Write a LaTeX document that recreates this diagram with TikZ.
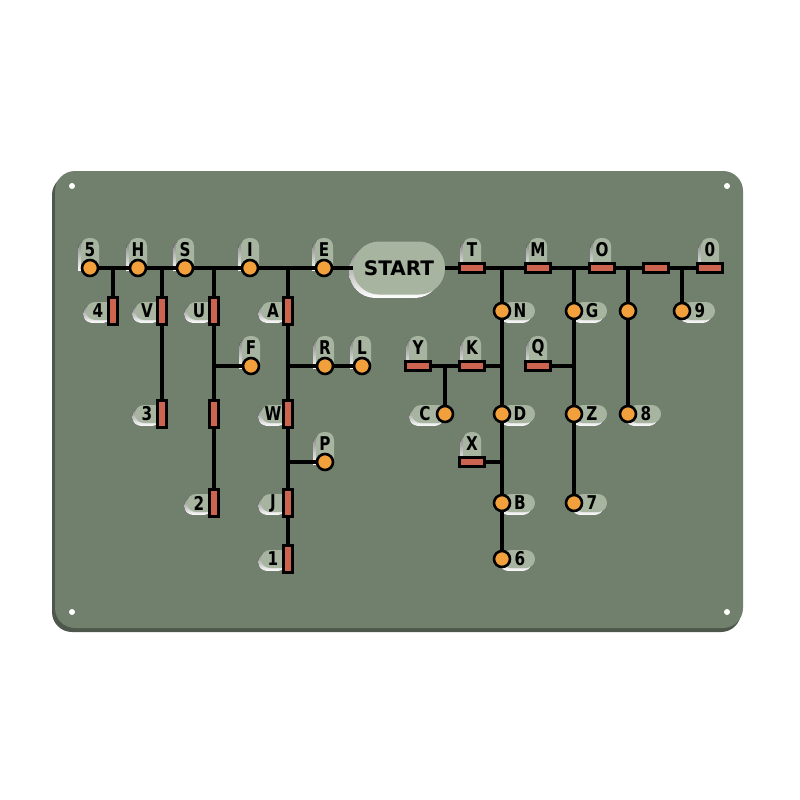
\documentclass[tikz,border=0pt]{standalone}
\usepackage{fontspec}
\setmainfont{DejaVu Sans}
\definecolor{plate}{HTML}{70806C}
\definecolor{edge}{HTML}{4E574B}
\definecolor{shade}{HTML}{5D6C5A}
\definecolor{tab}{HTML}{A6B4A0}
\definecolor{dotc}{HTML}{F2A03C}
\definecolor{dashc}{HTML}{CD6450}
\pgfdeclarelayer{back}
\pgfdeclarelayer{wires}
\pgfsetlayers{back,wires,main}

\begin{document}
\begin{tikzpicture}[x=1pt,y=-1pt,
	wire/.style={line width=3.5pt},
	dot/.style={circle,draw,line width=2.6pt,fill=dotc,minimum size=16pt,inner sep=0pt},
	hdash/.style={draw,line width=2.2pt,fill=dashc,minimum width=25pt,minimum height=9pt,inner sep=0pt},
	vdash/.style={draw,line width=2.2pt,fill=dashc,minimum width=9pt,minimum height=27pt,inner sep=0pt},
	start/.style={fill=tab,rounded corners=26pt,minimum width=92pt,minimum height=53pt,font=\fontsize{20}{20}\selectfont\bfseries},
	lab/.style={font=\fontsize{19}{19}\selectfont\bfseries,xscale=0.8,inner sep=0pt}]
		\useasboundingbox (0,0) rectangle (800,800);
		
		\begin{pgfonlayer}{back}
		\fill[white] (0,0) rectangle (800,800);
		\fill[edge, rounded corners=20pt] (52,175) rectangle (741,632);
		\fill[plate, rounded corners=20pt] (55,171) rectangle (743,628);
		\fill[white] (72,186) circle [radius=3] (727,186) circle [radius=3];
		\fill[white] (72,612) circle [radius=3] (727,612) circle [radius=3];
		\fill[shade, rounded corners=26pt] (349,245) rectangle (441,298);
		% tabs above
		\foreach \x/\y in {90/268,138/268,185/268,250/268,324/268,472/268,538/268,602/268,710/268,
			251/366,325/366,362/366,325/462,418/366,472/366,538/366,472/462} {
			\fill[shade] (\x-12,\y+3) {[rounded corners=8pt] -- (\x-12,\y-27) -- (\x+6,\y-27)} -- (\x+6,\y+3) -- cycle;
			\fill[tab] (\x-9,\y) {[rounded corners=8pt] -- (\x-9,\y-30) -- (\x+9,\y-30)} -- (\x+9,\y) -- cycle;
		}
		% tabs right
		\foreach \x/\y in {502/311,574/311,682/311,502/414,574/414,628/414,502/503,574/503,502/559} {
			\fill[shade, rounded corners=9pt] (\x-3,\y-6) rectangle (\x+30,\y+12);
			\fill[tab, rounded corners=9pt] (\x,\y-9) rectangle (\x+33,\y+9);
		}
		% tabs left
		\foreach \x/\y/\w in {113/311/27,162/311/27,214/311/27,288/311/27,162/414/27,288/414/27,
			214/503/27,288/503/27,288/559/27,445/414/33} {
			\fill[shade, rounded corners=9pt] (\x-\w-3,\y-6) rectangle (\x-1,\y+12);
			\fill[tab, rounded corners=9pt] (\x-\w,\y-9) rectangle (\x+2,\y+9);
		}
		\end{pgfonlayer}
		
		\node[dot] (n5) at (90,268) {};
		\node[dot] (nH) at (138,268) {};
		\node[dot] (nS) at (185,268) {};
		\node[dot] (nI) at (250,268) {};
		\node[dot] (nE) at (324,268) {};
		\node[start] (start) at (399,268) {START};
		\node[hdash] (nT) at (472,268) {};
		\node[hdash] (nM) at (538,268) {};
		\node[hdash] (nO) at (602,268) {};
		\node[hdash] (nCH) at (656,268) {};
		\node[hdash] (n0) at (710,268) {};
		
		\coordinate (j4) at (113,268);
		\coordinate (jV) at (162,268);
		\coordinate (jU) at (214,268);
		\coordinate (jA) at (288,268);
		\coordinate (jN) at (502,268);
		\coordinate (jG) at (574,268);
		\coordinate (jOE) at (628,268);
		\coordinate (j9) at (682,268);
		
		\node[vdash] (n4) at (113,311) {};
		\node[vdash] (nV) at (162,311) {};
		\node[vdash] (nU) at (214,311) {};
		\node[vdash] (nA) at (288,311) {};
		\node[vdash] (n3) at (162,414) {};
		\node[vdash] (nUE) at (214,414) {};
		\node[vdash] (n2) at (214,503) {};
		\node[vdash] (nW) at (288,414) {};
		\node[vdash] (nJ) at (288,503) {};
		\node[vdash] (n1) at (288,559) {};
		\coordinate (jF) at (214,366);
		\coordinate (jR) at (288,366);
		\coordinate (jP) at (288,462);
		\node[dot] (nF) at (251,366) {};
		\node[dot] (nR) at (325,366) {};
		\node[dot] (nL) at (362,366) {};
		\node[dot] (nP) at (325,462) {};
		
		\node[dot] (nN) at (502,311) {};
		\coordinate (jK) at (502,366);
		\node[dot] (nD) at (502,414) {};
		\coordinate (jX) at (502,462);
		\node[dot] (nB) at (502,503) {};
		\node[dot] (n6) at (502,559) {};
		\node[hdash] (nK) at (472,366) {};
		\coordinate (jC) at (445,366);
		\node[hdash] (nY) at (418,366) {};
		\node[dot] (nC) at (445,414) {};
		\node[hdash] (nX) at (472,462) {};
		\node[dot] (nG) at (574,311) {};
		\coordinate (jQ) at (574,366);
		\node[hdash] (nQ) at (538,366) {};
		\node[dot] (nZ) at (574,414) {};
		\node[dot] (n7) at (574,503) {};
		\node[dot] (nOE) at (628,311) {};
		\node[dot] (n8) at (628,414) {};
		\node[dot] (n9) at (682,311) {};
		
		\begin{pgfonlayer}{wires}
		\draw[wire] (n5) -- (nH) -- (nS) -- (nI) -- (nE) -- (start) -- (nT) -- (nM) -- (nO) -- (nCH) -- (n0);
		\draw[wire] (j4) -- (n4);
		\draw[wire] (jV) -- (nV) -- (n3);
		\draw[wire] (jU) -- (nU) -- (nUE) -- (n2);
		\draw[wire] (jF) -- (nF);
		\draw[wire] (jA) -- (nA) -- (nW) -- (nJ) -- (n1);
		\draw[wire] (jR) -- (nR) -- (nL);
		\draw[wire] (jP) -- (nP);
		\draw[wire] (jN) -- (nN) -- (nD) -- (nB) -- (n6);
		\draw[wire] (jK) -- (nK) -- (nY);
		\draw[wire] (jC) -- (nC);
		\draw[wire] (jX) -- (nX);
		\draw[wire] (jG) -- (nG) -- (nZ) -- (n7);
		\draw[wire] (jQ) -- (nQ);
		\draw[wire] (jOE) -- (nOE) -- (n8);
		\draw[wire] (j9) -- (n9);
		\end{pgfonlayer}
		
		% letters above
		\foreach \t/\x/\y in {5/90/250,H/138/250,S/185/250,I/250/250,E/324/250,T/472/250,M/538/250,
			O/602/250,0/710/250,F/251/348,R/325/348,L/362/348,P/325/444,Y/418/348,K/472/348,Q/538/348,X/472/444}
			\node[lab] (l\t) at (\x,\y) {\t};
		% letters left
		\foreach \t/\x/\y in {4/98/311,V/147/311,U/199/311,A/273/311,3/147/414,W/273/414,2/199/503,
			J/273/503,1/273/559,C/425/414}
			\node[lab] (l\t) at (\x,\y) {\t};
		% letters right
		\foreach \t/\x/\y in {N/520/311,G/592/311,9/700/311,D/520/414,Z/592/414,8/646/414,B/520/503,
			7/592/503,6/520/559}
			\node[lab] (l\t) at (\x,\y) {\t};
\end{tikzpicture}
\end{document}
